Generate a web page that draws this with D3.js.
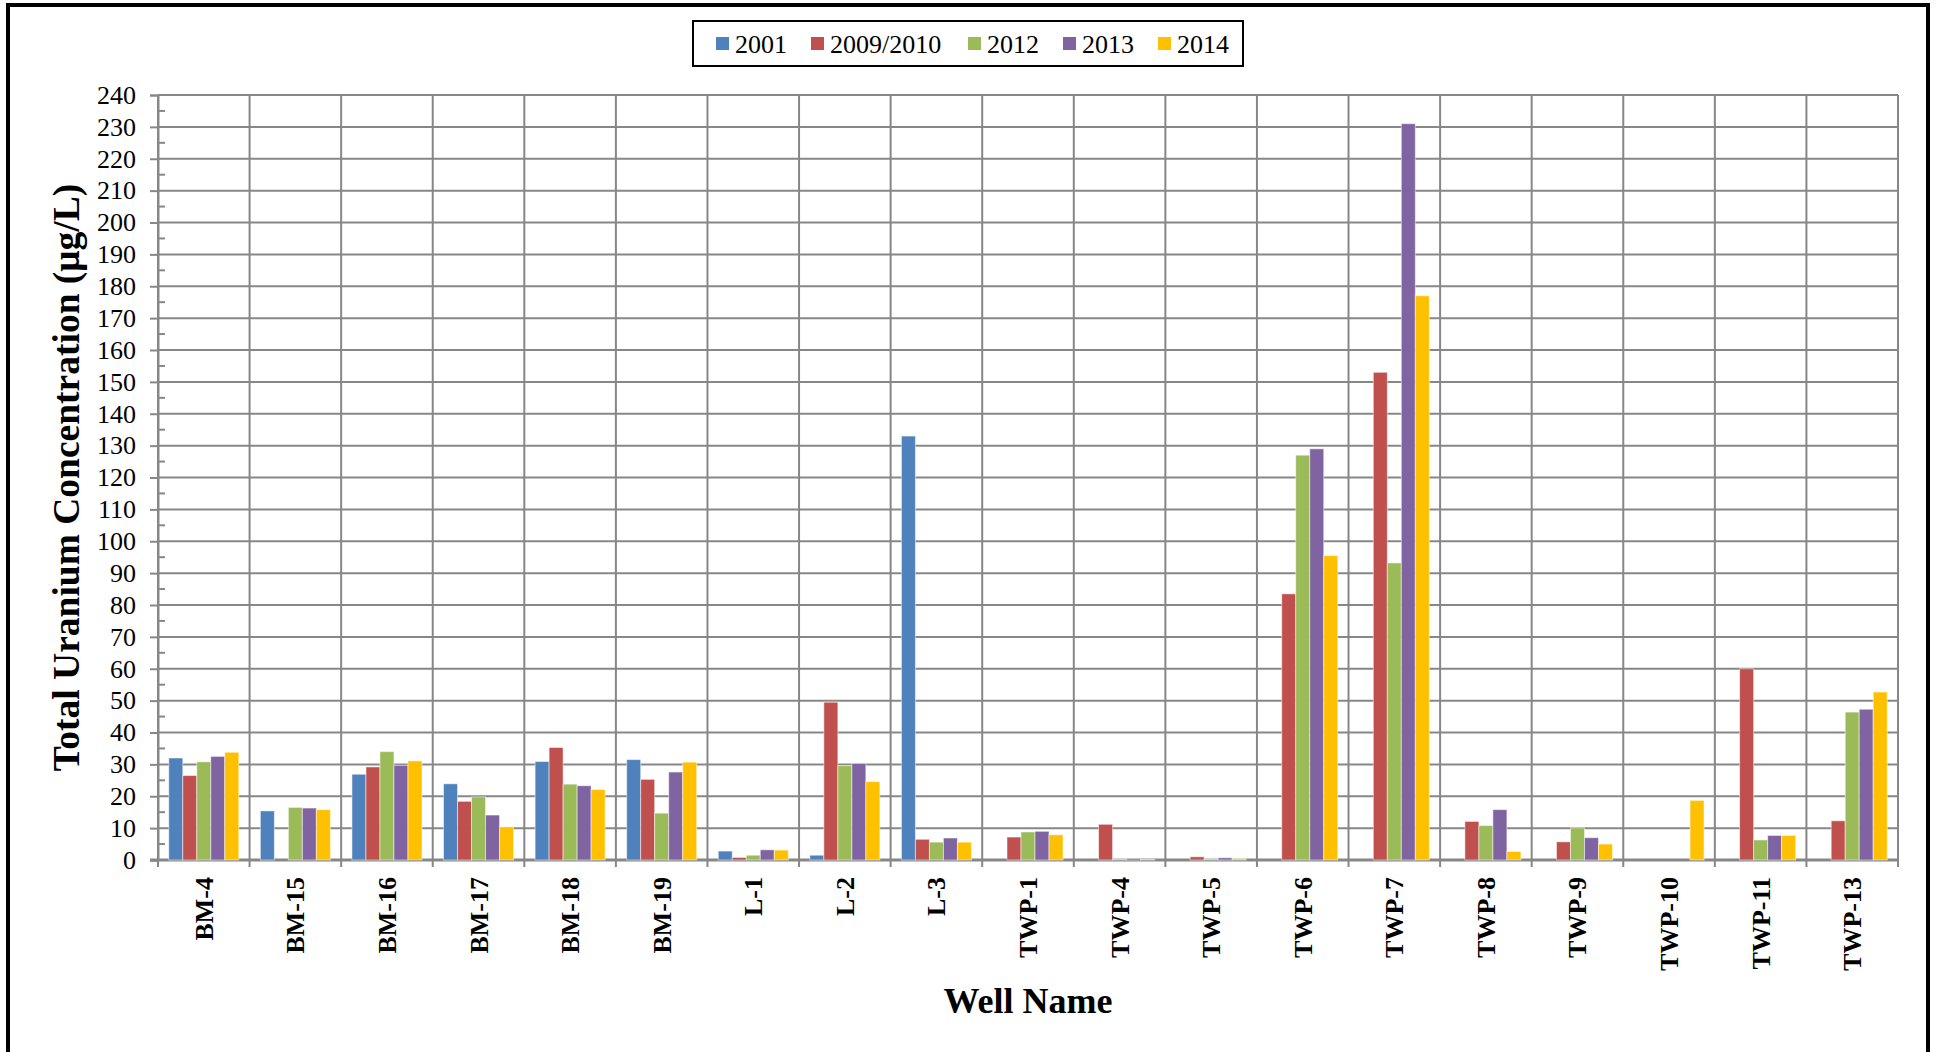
<!DOCTYPE html>
<html>
<head>
<meta charset="utf-8">
<script src="https://cdn.jsdelivr.net/npm/d3@7"></script>
<style>
  html, body { margin: 0; padding: 0; background: #fff; }
  svg { display: block; }
  text { font-family: "Liberation Serif", "Times New Roman", serif; fill: #000; }
</style>
</head>
<body>
<script>
// wells along the x axis
var wells = ["BM-4", "BM-15", "BM-16", "BM-17", "BM-18", "BM-19", "L-1", "L-2", "L-3",
  "TWP-1", "TWP-4", "TWP-5", "TWP-6", "TWP-7", "TWP-8", "TWP-9", "TWP-10", "TWP-11", "TWP-13"];

var seriesNames = ["2001", "2009/2010", "2012", "2013", "2014"];
var seriesColors = ["#4F81BD", "#C0504D", "#9BBB59", "#8064A2", "#FFC000"];

// total uranium, ug/L (null = no sample)
var v2001 = [32.0, 15.4, 26.9, 23.9, 30.9, 31.5, 2.8, 1.5, 133, null, null, null, null, null, null, null, null, null, null];
var v2009 = [26.5, null, 29.2, 18.4, 35.3, 25.3, 0.8, 49.5, 6.5, 7.2, 11.2, 1.0, 83.5, 153, 12.1, 5.7, null, 60.0, 12.3];
var v2012 = [30.8, 16.5, 34.0, 19.8, 23.8, 14.7, 1.5, 29.6, 5.6, 8.8, 0.3, 0.3, 127, 93.2, 10.8, 10.1, null, 6.3, 46.4];
var v2013 = [32.5, 16.3, 29.7, 14.1, 23.3, 27.6, 3.2, 30.3, 6.9, 9.0, 0.5, 0.7, 129, 231, 15.8, 7.0, null, 7.7, 47.3];
var v2014 = [33.8, 15.8, 31.1, 10.4, 22.1, 30.7, 3.1, 24.6, 5.6, 7.9, 0.2, 0.4, 95.5, 177, 2.7, 5.0, 18.7, 7.7, 52.7];

var yTicks = d3.range(0, 241, 10);

var allValues = [v2001, v2009, v2012, v2013, v2014];

var W = 1936, H = 1052;
var plotLeft = 158, plotRight = 1898, plotTop = 95, plotBottom = 860;
var gridColor = "#878787";

var svg = d3.select("body").append("svg")
  .attr("width", W)
  .attr("height", H);

// outer frame
svg.append("rect")
  .attr("x", 8).attr("y", 5)
  .attr("width", 1920).attr("height", 1060)
  .attr("fill", "none")
  .attr("stroke", "#000")
  .attr("stroke-width", 4);

var x0 = d3.scaleBand().domain(wells).range([plotLeft, plotRight]).padding(0);
var x1 = d3.scaleBand().domain(seriesNames).range([0, x0.bandwidth()])
  .paddingInner(0).paddingOuter(0.77);
var y = d3.scaleLinear().domain([0, 240]).range([plotBottom, plotTop]);

// horizontal grid
svg.append("g").selectAll("line")
  .data(yTicks)
  .enter().append("line")
  .attr("x1", plotLeft).attr("x2", plotRight)
  .attr("y1", function(d) { return y(d); })
  .attr("y2", function(d) { return y(d); })
  .attr("stroke", gridColor)
  .attr("stroke-width", 2);

// vertical grid at category edges
var edges = wells.map(function(w) { return x0(w); }).concat([plotRight]);
svg.append("g").selectAll("line")
  .data(edges)
  .enter().append("line")
  .attr("x1", function(d) { return d; })
  .attr("x2", function(d) { return d; })
  .attr("y1", plotTop).attr("y2", plotBottom + 7)
  .attr("stroke", gridColor)
  .attr("stroke-width", 2);

// y axis with outside major ticks
var yAxis = d3.axisLeft(y).tickValues(yTicks).tickSize(8).tickPadding(14);
var ya = svg.append("g")
  .attr("transform", "translate(" + plotLeft + ",0)")
  .call(yAxis);
ya.select(".domain").attr("stroke", gridColor).attr("stroke-width", 2);
ya.selectAll(".tick line").attr("stroke", gridColor).attr("stroke-width", 2);
ya.selectAll(".tick text")
  .style("font-family", "'Liberation Serif', serif")
  .style("font-size", "26px")
  .attr("fill", "#000");

// minor ticks inside
svg.append("g").selectAll("line")
  .data(d3.range(5, 240, 10))
  .enter().append("line")
  .attr("x1", plotLeft).attr("x2", plotLeft + 7)
  .attr("y1", function(d) { return y(d); })
  .attr("y2", function(d) { return y(d); })
  .attr("stroke", gridColor)
  .attr("stroke-width", 2);

// x axis line
svg.append("line")
  .attr("x1", plotLeft - 8).attr("x2", plotRight)
  .attr("y1", plotBottom).attr("y2", plotBottom)
  .attr("stroke", gridColor)
  .attr("stroke-width", 3);

// bars
var groups = svg.append("g").selectAll("g")
  .data(wells)
  .enter().append("g")
  .attr("transform", function(d) { return "translate(" + x0(d) + ",0)"; });

groups.selectAll("rect")
  .data(function(w, i) {
    return seriesNames.map(function(s, k) {
      return { series: s, k: k, value: allValues[k][i] };
    }).filter(function(d) { return d.value != null; });
  })
  .enter().append("rect")
  .attr("x", function(d) { return x1(d.series); })
  .attr("width", x1.bandwidth())
  .attr("y", function(d) { return y(d.value); })
  .attr("height", function(d) { return plotBottom - y(d.value); })
  .attr("fill", function(d) { return seriesColors[d.k]; })
  .attr("stroke", "#ffffff")
  .attr("stroke-opacity", 0.5)
  .attr("stroke-width", 1);

// category labels, rotated
svg.append("g").selectAll("text")
  .data(wells)
  .enter().append("text")
  .attr("transform", function(d) {
    return "translate(" + (x0(d) + x0.bandwidth() / 2 + 9) + "," + (plotBottom + 17) + ") rotate(-90)";
  })
  .attr("text-anchor", "end")
  .style("font-size", "26px")
  .style("font-weight", "bold")
  .text(function(d) { return d; });

// axis titles
svg.append("text")
  .attr("x", 1028).attr("y", 1013)
  .attr("text-anchor", "middle")
  .style("font-size", "36px")
  .style("font-weight", "bold")
  .text("Well Name");

svg.append("text")
  .attr("transform", "translate(79," + ((plotTop + plotBottom) / 2) + ") rotate(-90)")
  .attr("text-anchor", "middle")
  .style("font-size", "37.5px")
  .style("font-weight", "bold")
  .text("Total Uranium Concentration (μg/L)");

// legend
var legend = svg.append("g");
legend.append("rect")
  .attr("x", 693).attr("y", 21)
  .attr("width", 550).attr("height", 45)
  .attr("fill", "#fff")
  .attr("stroke", "#000")
  .attr("stroke-width", 2);

var legendX = [716, 811, 968, 1063, 1158];
var items = legend.selectAll("g.item")
  .data(seriesNames)
  .enter().append("g")
  .attr("class", "item")
  .attr("transform", function(d, i) { return "translate(" + legendX[i] + ",0)"; });

items.append("rect")
  .attr("x", 0).attr("y", 37)
  .attr("width", 13).attr("height", 13)
  .attr("fill", function(d, i) { return seriesColors[i]; });

items.append("text")
  .attr("x", 19).attr("y", 53)
  .style("font-size", "26px")
  .text(function(d) { return d; });
</script>
</body>
</html>
